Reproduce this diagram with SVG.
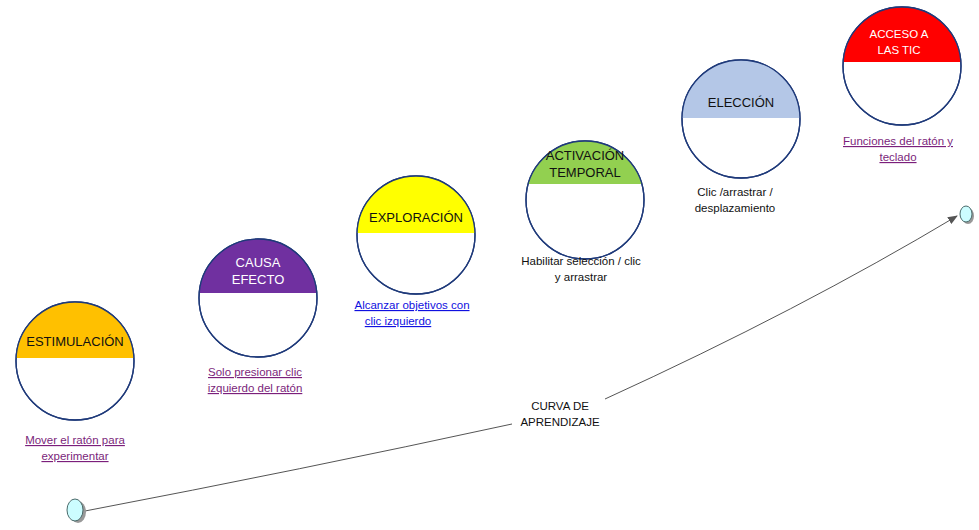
<svg xmlns="http://www.w3.org/2000/svg" width="979" height="530" viewBox="0 0 979 530">
<style>
.c{fill:#fff;stroke:#1f3a7a;stroke-width:1.3}
.t{font-family:"Liberation Sans",Arial,sans-serif;font-size:13px;text-anchor:middle}
.s{font-family:"Liberation Sans",Arial,sans-serif;font-size:11.5px;text-anchor:middle}
.p{fill:#7b1f7b;text-decoration:underline}
.b{fill:#1010e0;text-decoration:underline}
.k{fill:#111}
.e{fill:#ccfdff;stroke:#4a6a6a;stroke-width:1}
</style>
<defs>
<marker id="ar" markerWidth="10" markerHeight="8" refX="9" refY="4" orient="auto" markerUnits="userSpaceOnUse"><path d="M0,0 L10,4 L0,8 z" fill="#555"/></marker>
<clipPath id="c1"><rect x="0" y="0" width="979" height="358"/></clipPath>
<clipPath id="c2"><rect x="0" y="0" width="979" height="293"/></clipPath>
<clipPath id="c3"><rect x="0" y="0" width="979" height="233"/></clipPath>
<clipPath id="c4"><rect x="0" y="0" width="979" height="184"/></clipPath>
<clipPath id="c5"><rect x="0" y="0" width="979" height="118"/></clipPath>
<clipPath id="c6"><rect x="0" y="0" width="979" height="62"/></clipPath>
</defs>
<g id="connectors">
<path d="M85,511 Q300,470 512,424" fill="none" stroke="#555" stroke-width="1"/>
<path d="M605,399 Q800,310 957,216" fill="none" stroke="#555" stroke-width="1" marker-end="url(#ar)"/>
<text class="s k" x="560" y="410">CURVA DE</text>
<text class="s k" x="560" y="426">APRENDIZAJE</text>
</g>
<g id="start"><ellipse cx="78" cy="512" rx="8" ry="11" fill="#999"/><ellipse cx="75" cy="510" rx="8" ry="11" class="e"/></g>
<g id="end"><ellipse cx="968" cy="216" rx="6" ry="8" fill="#999"/><ellipse cx="966" cy="214" rx="6" ry="8" class="e"/></g>
<g id="n1">
<circle cx="75" cy="361" r="59" class="c"/>
<circle cx="75" cy="361" r="59" fill="#ffc000" clip-path="url(#c1)"/>
<circle cx="75" cy="361" r="59" fill="none" stroke="#1f3a7a" stroke-width="1.3"/>
<text class="t k" x="75" y="346">ESTIMULACIÓN</text>
<text class="s p" x="75" y="444">Mover el ratón para </text>
<text class="s p" x="75" y="460">experimentar</text>
</g>
<g id="n2">
<circle cx="258" cy="298" r="59" class="c"/>
<circle cx="258" cy="298" r="59" fill="#7030a0" clip-path="url(#c2)"/>
<circle cx="258" cy="298" r="59" fill="none" stroke="#1f3a7a" stroke-width="1.3"/>
<text class="t" fill="#fff" x="258" y="267">CAUSA</text>
<text class="t" fill="#fff" x="258" y="284">EFECTO</text>
<text class="s p" x="255" y="376">Solo presionar clic </text>
<text class="s p" x="255" y="392">izquierdo del ratón</text>
</g>
<g id="n3">
<circle cx="416" cy="235" r="59" class="c"/>
<circle cx="416" cy="235" r="59" fill="#ffff00" clip-path="url(#c3)"/>
<circle cx="416" cy="235" r="59" fill="none" stroke="#1f3a7a" stroke-width="1.3"/>
<text class="t k" x="416" y="222">EXPLORACIÓN</text>
<text class="s b" x="412" y="309">Alcanzar objetivos con </text>
<text class="s b" x="398" y="325">clic izquierdo</text>
</g>
<g id="n4">
<circle cx="585" cy="200" r="59" class="c"/>
<circle cx="585" cy="200" r="59" fill="#92d050" clip-path="url(#c4)"/>
<circle cx="585" cy="200" r="59" fill="none" stroke="#1f3a7a" stroke-width="1.3"/>
<text class="t k" x="585" y="160">ACTIVACIÓN</text>
<text class="t k" x="585" y="177">TEMPORAL</text>
<text class="s k" x="581" y="265">Habilitar selección / clic</text>
<text class="s k" x="581" y="281">y arrastrar</text>
</g>
<g id="n5">
<circle cx="741" cy="119" r="59" class="c"/>
<circle cx="741" cy="119" r="59" fill="#b4c7e7" clip-path="url(#c5)"/>
<circle cx="741" cy="119" r="59" fill="none" stroke="#1f3a7a" stroke-width="1.3"/>
<text class="t k" x="741" y="107">ELECCIÓN</text>
<text class="s k" x="735" y="196">Clic /arrastrar /</text>
<text class="s k" x="735" y="212">desplazamiento</text>
</g>
<g id="n6">
<circle cx="902" cy="66" r="59" class="c"/>
<circle cx="902" cy="66" r="59" fill="#ff0000" clip-path="url(#c6)"/>
<circle cx="902" cy="66" r="59" fill="none" stroke="#1f3a7a" stroke-width="1.3"/>
<text class="s" fill="#fff" x="899" y="38">ACCESO A</text>
<text class="s" fill="#fff" x="899" y="54">LAS TIC</text>
<text class="s p" x="898" y="145">Funciones del ratón y </text>
<text class="s p" x="898" y="161">teclado</text>
</g>
</svg>
